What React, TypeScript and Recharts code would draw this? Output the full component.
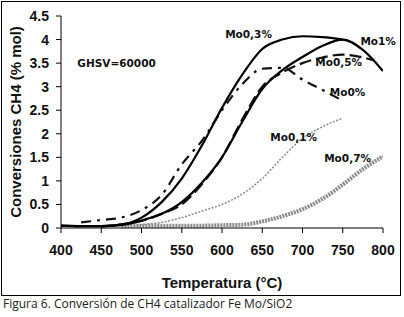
import { LineChart, Line, XAxis, YAxis, ReferenceDot, Label } from 'recharts'

const xTicks = [400, 450, 500, 550, 600, 650, 700, 750, 800]
const yTicks = [0, 0.5, 1, 1.5, 2, 2.5, 3, 3.5, 4, 4.5]

// Mo 0,3 %
const tempMo03 = [400, 425, 450, 475, 500, 525, 550, 575, 600, 625, 650, 675, 700, 725, 750]
const convMo03 = [0.05, 0.04, 0.04, 0.07, 0.22, 0.55, 1.05, 1.75, 2.55, 3.25, 3.8, 4.0, 4.07, 4.05, 4.0]

// Mo 1 %
const tempMo1 = [400, 425, 450, 475, 500, 525, 550, 575, 600, 625, 650, 675, 700, 725, 750, 775, 800]
const convMo1 = [0.05, 0.04, 0.04, 0.06, 0.16, 0.3, 0.55, 0.96, 1.5, 2.25, 2.95, 3.35, 3.63, 3.87, 4.0, 3.78, 3.33]

// Mo 0 %
const tempMo0 = [425, 450, 475, 500, 525, 550, 575, 600, 625, 650, 675, 700, 725, 750]
const convMo0 = [0.12, 0.17, 0.22, 0.38, 0.7, 1.35, 1.85, 2.5, 3.05, 3.38, 3.4, 3.15, 2.93, 2.7]

// Mo 0,5 %
const tempMo05 = [450, 475, 500, 525, 550, 575, 600, 625, 650, 675, 700, 725, 750, 775, 790]
const convMo05 = [0.03, 0.08, 0.15, 0.3, 0.5, 0.93, 1.5, 2.3, 3.0, 3.3, 3.5, 3.62, 3.68, 3.62, 3.55]

// Mo 0,1 %
const tempMo01 = [490, 500, 525, 550, 575, 600, 625, 650, 675, 700, 725, 750]
const convMo01 = [0.04, 0.07, 0.12, 0.22, 0.36, 0.5, 0.72, 1.05, 1.5, 1.9, 2.15, 2.33]

// Mo 0,7 %
const tempMo07 = [475, 500, 525, 550, 575, 600, 625, 650, 675, 700, 725, 750, 775, 800]
const convMo07 = [0.04, 0.05, 0.05, 0.05, 0.05, 0.06, 0.07, 0.14, 0.25, 0.4, 0.62, 0.92, 1.25, 1.52]

// text annotations (temp, value)
const notes = [
  { text: 'Mo0,3%', x: 633, y: 4.11 },
  { text: 'Mo1%', x: 794, y: 3.96 },
  { text: 'Mo0,5%', x: 745, y: 3.52 },
  { text: 'Mo0%', x: 756, y: 2.89 },
  { text: 'Mo0,1%', x: 689, y: 1.93 },
  { text: 'Mo0,7%', x: 756, y: 1.49 },
  { text: 'GHSV=60000', x: 469, y: 3.5 },
]

const pts = (t: number[], v: number[]) => t.map((x, i) => ({ x, y: v[i] }))

const tickStyle = { fill: '#111', fontSize: 14, fontWeight: 700, fontFamily: '"Liberation Sans", Arial, sans-serif' }

export default function App() {
  return (
    <div style={{ position: 'absolute', left: 0, top: 0, width: 404, height: 317, background: '#fff' }}>
      <div style={{ position: 'absolute', left: 1, top: 1, width: 398, height: 293, border: '1.5px solid #000' }} />
      <div style={{ position: 'absolute', left: 0, top: 0 }}>
        <LineChart width={404} height={317} margin={{ top: 16, right: 21, left: 0, bottom: 29 }}>
          <XAxis
            dataKey="x"
            type="number"
            domain={[400, 800]}
            ticks={xTicks}
            allowDataOverflow
            height={60}
            tick={tickStyle}
            tickSize={5}
            tickMargin={12}
            stroke="#000"
          >
            <Label
              value="Temperatura (°C)"
              position="insideBottom"
              offset={0}
              style={{ fill: '#111', fontSize: 15, fontWeight: 700, fontFamily: '"Liberation Sans", Arial, sans-serif' }}
            />
          </XAxis>
          <YAxis
            type="number"
            domain={[0, 4.5]}
            ticks={yTicks}
            width={61}
            tick={tickStyle}
            tickSize={5}
            tickMargin={7}
            stroke="#000"
          >
            <Label
              value="Conversiones CH4 (% mol)"
              angle={-90}
              position="insideLeft"
              offset={16}
              style={{ fill: '#111', fontSize: 15, fontWeight: 700, fontFamily: '"Liberation Sans", Arial, sans-serif', textAnchor: 'middle' }}
            />
          </YAxis>
          <Line data={pts(tempMo07, convMo07)} dataKey="y" type="monotone" dot={false} stroke="#8a8a8a" strokeWidth={4} strokeDasharray="2 1" isAnimationActive={false} />
          <Line data={pts(tempMo01, convMo01)} dataKey="y" type="monotone" dot={false} stroke="#8a8a8a" strokeWidth={1.5} strokeDasharray="2 1.5" isAnimationActive={false} />
          <Line data={pts(tempMo0, convMo0)} dataKey="y" type="monotone" dot={false} stroke="#111" strokeWidth={2.2} strokeDasharray="10 6 3 6" isAnimationActive={false} />
          <Line data={pts(tempMo05, convMo05)} dataKey="y" type="monotone" dot={false} stroke="#111" strokeWidth={2.2} strokeDasharray="12 5" isAnimationActive={false} />
          <Line data={pts(tempMo1, convMo1)} dataKey="y" type="monotone" dot={false} stroke="#000" strokeWidth={2.2} isAnimationActive={false} />
          <Line data={pts(tempMo03, convMo03)} dataKey="y" type="monotone" dot={false} stroke="#000" strokeWidth={2.2} isAnimationActive={false} />
          {notes.map((n) => (
            <ReferenceDot
              key={n.text}
              x={n.x}
              y={n.y}
              r={0}
              fill="none"
              stroke="none"
              ifOverflow="visible"
              label={{
                value: n.text,
                position: 'center',
                style: { fill: '#111', fontSize: 10.5, fontWeight: 700, fontFamily: '"DejaVu Sans", Verdana, sans-serif' },
              }}
            />
          ))}
        </LineChart>
      </div>
      <div
        style={{
          position: 'absolute',
          left: 3,
          top: 295,
          fontSize: 12,
          fontFamily: '"Open Sans", "Noto Sans", sans-serif',
          color: '#222',
          whiteSpace: 'nowrap',
        }}
      >
        Figura 6. Conversión de CH4 catalizador Fe Mo/SiO2
      </div>
    </div>
  )
}
